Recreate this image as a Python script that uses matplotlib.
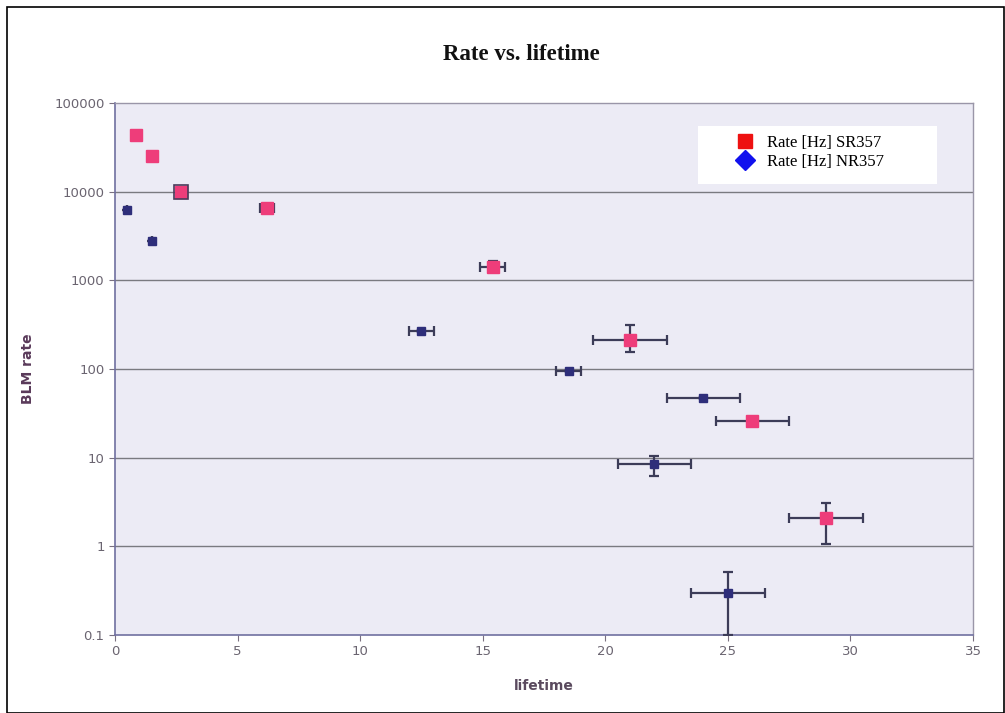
import matplotlib
matplotlib.use("Agg")
import matplotlib.pyplot as plt
from matplotlib.patches import Rectangle
from matplotlib.lines import Line2D

# SR357 series
sr_x = [0.85, 1.5, 2.7, 6.2, 15.4, 21.0, 26.0, 29.0]
sr_y = [43000, 25000, 10000, 6500, 1400, 210, 26, 2.1]
sr_xerr = [0, 0, 0.1, 0.3, 0.5, 1.5, 1.5, 1.5]
sr_yerr_lo = [0, 0, 0, 0, 150, 55, 0, 1.05]
sr_yerr_hi = [0, 0, 0, 0, 250, 100, 0, 1.0]

# NR357 series
nr_x = [0.5, 1.5, 2.7, 12.5, 18.5, 24.0, 22.0, 25.0]
nr_y = [6200, 2800, 10000, 270, 95, 47, 8.5, 0.3]
nr_xerr = [0, 0, 0, 0.5, 0.5, 1.5, 1.5, 1.5]
nr_yerr_lo = [0, 0, 0, 0, 0, 0, 2.3, 0.2]
nr_yerr_hi = [0, 0, 0, 0, 0, 0, 1.9, 0.22]

x_ticks = [0, 5, 10, 15, 20, 25, 30, 35]
y_ticks = [0.1, 1, 10, 100, 1000, 10000, 100000]
y_ticklabels = ["0.1", "1", "10", "100", "1000", "10000", "100000"]

W, H = 1005, 713
fig = plt.figure(figsize=(W / 100, H / 100), dpi=100)
fig.patch.set_facecolor("white")

# outer frame
fig.add_artist(Rectangle((7 / W, 0), (W - 8) / W, (H - 7) / H, transform=fig.transFigure,
                         fill=False, edgecolor="black", linewidth=1.2))

left, right, top, bottom = 115, 973, 103, 635
ax = fig.add_axes([left / W, 1 - bottom / H, (right - left) / W, (bottom - top) / H])
ax.set_facecolor("#ecebf5")
ax.set_yscale("log")
ax.set_xlim(0, 35)
ax.set_ylim(0.1, 100000)

for v in y_ticks[1:-1]:
    ax.axhline(v, color="#7a7a80", linewidth=1.0, zorder=1)

err_color = "#3c3c58"
ax.errorbar(nr_x, nr_y, xerr=nr_xerr, yerr=[nr_yerr_lo, nr_yerr_hi], fmt="s",
            color="#2e2e7a", markersize=6, ecolor=err_color, elinewidth=1.6,
            capsize=3.5, capthick=1.6, zorder=3)
ax.errorbar(sr_x, sr_y, xerr=sr_xerr, yerr=[sr_yerr_lo, sr_yerr_hi], fmt="s",
            color="#ee3d7a", markersize=8, ecolor=err_color, elinewidth=1.6,
            capsize=3.5, capthick=1.6, zorder=4, markeredgecolor="#ee3d7a")
# dark outline of overlapping point at 2.7
ax.plot([sr_x[2]], [sr_y[2]], "s", markersize=10, markerfacecolor="none",
        markeredgecolor="#4a3a5a", markeredgewidth=1.2, zorder=5)

ax.set_xticks(x_ticks)
ax.set_xticklabels([str(t) for t in x_ticks])
ax.set_yticks(y_ticks)
ax.set_yticklabels(y_ticklabels)
ax.minorticks_off()
ax.tick_params(axis="both", colors="#7a7080", labelcolor="#6a6470", labelsize=9.5,
               length=4, direction="out")
for s in ["left", "bottom"]:
    ax.spines[s].set_color("#7070a0")
    ax.spines[s].set_linewidth(1.2)
for s in ["top", "right"]:
    ax.spines[s].set_color("#9a96a8")
    ax.spines[s].set_linewidth(1.0)

ax.set_xlabel("lifetime", fontsize=10, fontweight="bold", color="#5a4a5e", labelpad=15)
ax.set_ylabel("BLM rate", fontsize=10, fontweight="bold", color="#5a3a5a", labelpad=14)
fig.text(0.519, 1 - 55 / H, "Rate vs. lifetime", ha="center", va="center",
         fontsize=16.5, fontweight="bold", family="Liberation Serif", color="#111111")

# legend background box
box = Rectangle((698 / W, 1 - 184 / H), (937 - 698) / W, (184 - 126) / H,
                transform=fig.transFigure, facecolor="white", edgecolor="none",
                zorder=8, clip_on=False)
ax.add_patch(box)

handles = [Line2D([], [], linestyle="none", marker="s", color="#ee1111", markersize=10),
           Line2D([], [], linestyle="none", marker="D", color="#1111ee", markersize=10)]
leg = ax.legend(handles, ["Rate [Hz] SR357", "Rate [Hz] NR357"], loc="upper left",
                bbox_to_anchor=(732 / W, 1 - 135 / H), bbox_transform=fig.transFigure,
                borderaxespad=0, frameon=False,
                prop={"family": "Liberation Serif", "size": 12}, handletextpad=0.5,
                borderpad=0, labelspacing=0.15, handlelength=1.6)
leg.set_zorder(10)

fig.savefig("out.png", dpi=100, facecolor="white")
